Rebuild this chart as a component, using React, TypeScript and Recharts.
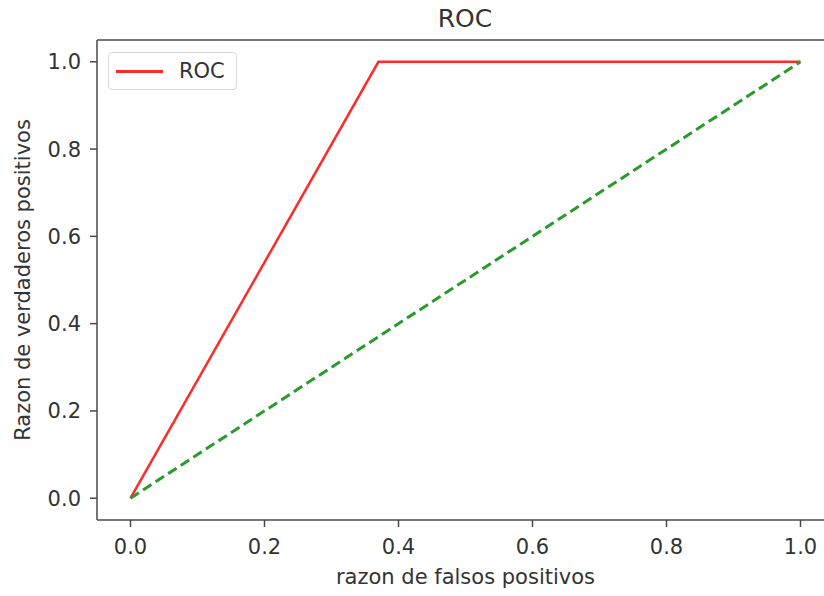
import { LineChart, Line, XAxis, YAxis, ReferenceLine } from 'recharts'

const rocFpr = [0, 0.37, 1]
const rocTpr = [0, 1, 1]
const diagFpr = [0, 1]
const diagTpr = [0, 1]
const ticks = [0, 0.2, 0.4, 0.6, 0.8, 1]

const rocData = rocFpr.map((x, i) => ({ x, roc: rocTpr[i] }))
const diagData = diagFpr.map((x, i) => ({ x, diag: diagTpr[i] }))

const FONT = '"DejaVu Sans", sans-serif'
const FS = 21
const INK = '#333'
const SPINE = '#4a4a4a'
const RED = '#ff2a2a'
const GREEN = '#2a9a2a'

function YLabel({ viewBox }: any) {
  const cx = viewBox.x + 23
  const cy = viewBox.y + viewBox.height / 2
  return (
    <text
      x={cx}
      y={cy}
      transform={`rotate(-90 ${cx} ${cy})`}
      textAnchor="middle"
      dominantBaseline="central"
      fontSize={FS}
      fill={INK}
      fontFamily={FONT}
    >
      Razon de verdaderos positivos
    </text>
  )
}

export default function App() {
  return (
    <div style={{ position: 'absolute', left: 0, top: 0, width: 824, height: 596, overflow: 'hidden', background: '#fff' }}>
      <div
        style={{
          position: 'absolute',
          left: 0,
          top: 5,
          width: 930,
          textAlign: 'center',
          fontFamily: FONT,
          fontSize: 25,
          lineHeight: '28px',
          color: INK,
        }}
      >
        ROC
      </div>
      <LineChart width={860} height={596} margin={{ top: 40, right: 26, left: 0, bottom: 0 }}>
        <XAxis
          type="number"
          dataKey="x"
          domain={[-0.05, 1.05]}
          ticks={ticks}
          allowDataOverflow
          tickFormatter={(v: number) => v.toFixed(1)}
          height={76}
          tickSize={7}
          tickMargin={12}
          axisLine={{ stroke: SPINE, strokeWidth: 1.5 }}
          tickLine={{ stroke: SPINE, strokeWidth: 1.5 }}
          tick={{ fill: INK, fontSize: FS, fontFamily: FONT }}
          label={{ value: 'razon de falsos positivos', position: 'insideBottom', offset: 12, fill: INK, fontSize: FS, fontFamily: FONT }}
        />
        <YAxis
          type="number"
          domain={[-0.05, 1.05]}
          ticks={ticks}
          allowDataOverflow
          tickFormatter={(v: number) => v.toFixed(1)}
          width={97}
          tickSize={7}
          tickMargin={9}
          axisLine={{ stroke: SPINE, strokeWidth: 1.5 }}
          tickLine={{ stroke: SPINE, strokeWidth: 1.5 }}
          tick={{ fill: INK, fontSize: FS, fontFamily: FONT }}
          label={<YLabel />}
        />
        <ReferenceLine y={1.05} stroke={SPINE} strokeWidth={1.5} ifOverflow="visible" />
        <ReferenceLine x={1.05} stroke={SPINE} strokeWidth={1.5} ifOverflow="visible" />
        <Line
          data={rocData}
          dataKey="roc"
          name="ROC"
          type="linear"
          stroke={RED}
          strokeWidth={2.5}
          dot={false}
          isAnimationActive={false}
        />
        <Line
          data={diagData}
          dataKey="diag"
          type="linear"
          stroke={GREEN}
          strokeWidth={3}
          strokeDasharray="10 5"
          dot={false}
          isAnimationActive={false}
        />
      </LineChart>
      <div
        style={{
          position: 'absolute',
          left: 108,
          top: 52,
          width: 127,
          height: 36,
          border: '1px solid #d8d8d8',
          borderRadius: 4,
          background: '#fff',
          display: 'flex',
          alignItems: 'center',
          fontFamily: FONT,
          fontSize: FS,
          color: INK,
        }}
      >
        <span style={{ display: 'inline-block', width: 47, height: 3, background: RED, marginLeft: 7, marginRight: 16 }} />
        <span>ROC</span>
      </div>
    </div>
  )
}
